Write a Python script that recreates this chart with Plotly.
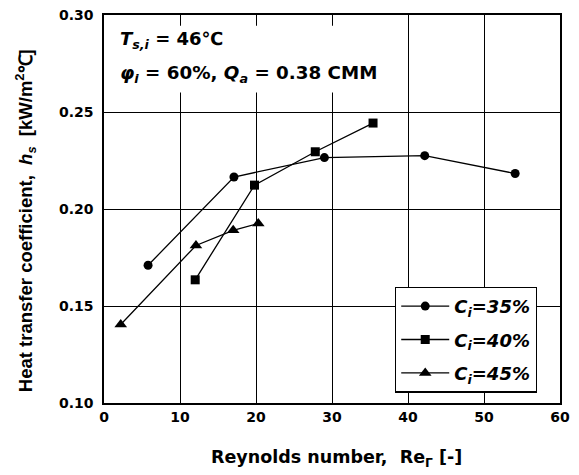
import plotly.graph_objects as go

re35 = [5.8, 17.1, 29.0, 42.2, 54.1]
h35 = [0.171, 0.2165, 0.2265, 0.2275, 0.2183]
re40 = [12.0, 19.8, 27.8, 35.4]
h40 = [0.1635, 0.2123, 0.2295, 0.2443]
re45 = [2.2, 12.1, 17.0, 20.3]
h45 = [0.1405, 0.1812, 0.1890, 0.1925]

x_ticks = [0, 10, 20, 30, 40, 50, 60]
y_ticks = [0.10, 0.15, 0.20, 0.25, 0.30]
y_tick_labels = ["0.10", "0.15", "0.20", "0.25", "0.30"]

FONT = "DejaVu Sans"

fig = go.Figure()
series = [
    (re35, h35, "<b><i>C<sub>i</sub>=35%</i></b>", "circle", 9),
    (re40, h40, "<b><i>C<sub>i</sub>=40%</i></b>", "square", 9),
    (re45, h45, "<b><i>C<sub>i</sub>=45%</i></b>", "triangle-up", 11),
]
for i, (xs, ys, name, sym, sz) in enumerate(series):
    fig.add_trace(go.Scatter(
        x=xs, y=ys, name=name, mode="lines+markers", legendgroup=f"g{i}",
        line=dict(color="black", width=1.3),
        marker=dict(symbol=sym, size=sz, color="black"),
    ))

fig.update_layout(
    width=571, height=467,
    margin=dict(l=96, r=19, t=7, b=72, autoexpand=False),
    paper_bgcolor="white", plot_bgcolor="white",
    font=dict(family=FONT, color="black"),
    showlegend=True,
    legend=dict(
        x=0.638, y=0.30, xanchor="left", yanchor="top",
        bgcolor="white", bordercolor="black", borderwidth=1.3,
        font=dict(family=FONT, size=18, color="black"),
        itemwidth=48, tracegroupgap=7,
    ),
    shapes=[
        dict(type="rect", xref="paper", yref="paper", x0=0.013, x1=0.612, y0=0.80, y1=0.972,
             fillcolor="white", line=dict(width=0), layer="above"),
    ],
    annotations=[
        dict(
            xref="paper", yref="paper", x=0.03, y=0.936, xanchor="left", yanchor="middle",
            align="left", showarrow=False,
            text="<b><i>T<sub>s,i</sub></i> = 46℃</b>",
            font=dict(family=FONT, size=18, color="black"),
        ),
        dict(
            xref="paper", yref="paper", x=0.03, y=0.848, xanchor="left", yanchor="middle",
            align="left", showarrow=False,
            text="<b><i>φ<sub>i</sub></i> = 60%, <i>Q<sub>a</sub></i> = 0.38 CMM</b>",
            font=dict(family=FONT, size=18.3, color="black"),
        ),
        dict(
            xref="paper", yref="paper", x=-0.173, y=0.469, xanchor="center", yanchor="middle",
            textangle=-90, showarrow=False,
            text="<b>Heat transfer coefficient,  <i>h<sub>s</sub></i>  [kW/m<sup>2</sup>℃]</b>",
            font=dict(family="Liberation Sans", size=18.5, color="black"),
        ),
        dict(
            xref="paper", yref="paper", x=0.509, y=-0.144, xanchor="center", yanchor="middle",
            showarrow=False,
            text="<b>Reynolds number,  Re<sub>Γ</sub> [-]</b>",
            font=dict(family=FONT, size=17.5, color="black"),
        ),
    ],
)
fig.update_xaxes(
    range=[0, 60], tickvals=x_ticks, ticks="", showline=True, linecolor="black", linewidth=1.5,
    mirror=True, showgrid=True, gridcolor="black", gridwidth=1, zeroline=False,
    tickfont=dict(family=FONT, size=14, weight="bold"), automargin=False,
    ticklabeloverflow="allow",
)
fig.update_yaxes(
    range=[0.10, 0.30], tickvals=y_ticks, ticktext=y_tick_labels, ticks="", showline=True,
    linecolor="black", linewidth=1.5, mirror=True, showgrid=True, gridcolor="black", gridwidth=1,
    zeroline=False, automargin=False, ticklabelstandoff=6, ticklabeloverflow="allow",
    tickfont=dict(family=FONT, size=14, weight="bold"),
)

fig.write_html("out.html")
